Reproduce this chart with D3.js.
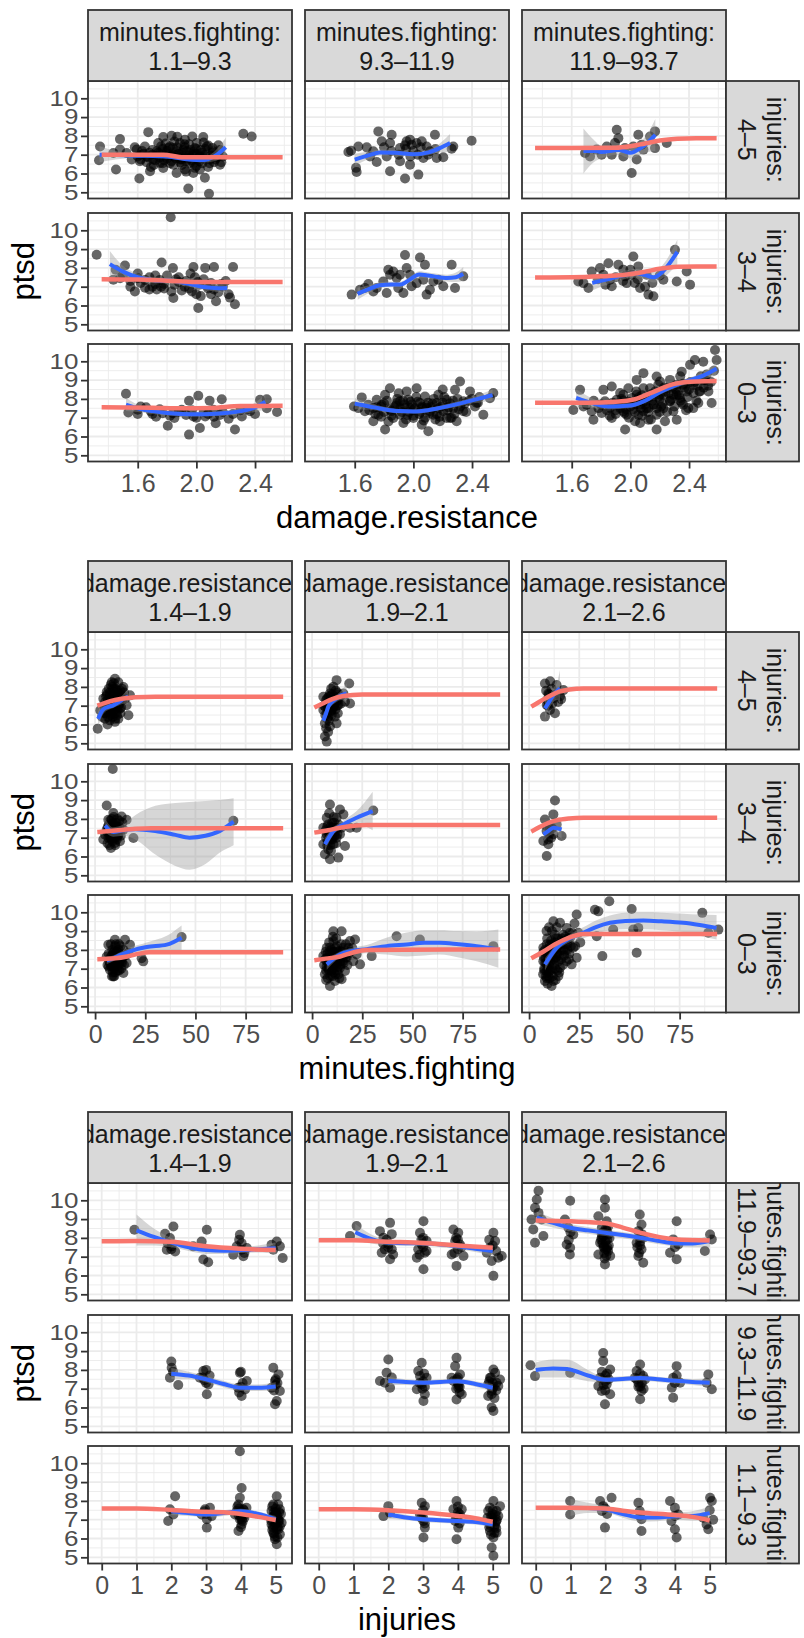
<!DOCTYPE html>
<html>
<head>
<meta charset="utf-8">
<script src="https://cdn.jsdelivr.net/npm/d3@7"></script>
<style>
  body { margin: 0; background: #fff; }
  svg { display: block; font-family: "Liberation Sans", Arial, sans-serif; }
</style>
</head>
<body>
<svg id="chart" width="804" height="1638"></svg>
<script>
// Titoli e etichette dei facet
const xTitles = ["damage.resistance", "minutes.fighting", "injuries"];
const yTitle = "ptsd";
const colStrips = [
  [["minutes.fighting:", "1.1–9.3"], ["minutes.fighting:", "9.3–11.9"], ["minutes.fighting:", "11.9–93.7"]],
  [["damage.resistance:", "1.4–1.9"], ["damage.resistance:", "1.9–2.1"], ["damage.resistance:", "2.1–2.6"]],
  [["damage.resistance:", "1.4–1.9"], ["damage.resistance:", "1.9–2.1"], ["damage.resistance:", "2.1–2.6"]]
];
const rowStrips = [
  [["injuries:", "4–5"], ["injuries:", "3–4"], ["injuries:", "0–3"]],
  [["injuries:", "4–5"], ["injuries:", "3–4"], ["injuries:", "0–3"]],
  [["minutes.fighting:", "11.9–93.7"], ["minutes.fighting:", "9.3–11.9"], ["minutes.fighting:", "1.1–9.3"]]
];

// Tick
const xTicks = [[1.6, 2.0, 2.4], [0, 25, 50, 75], [0, 1, 2, 3, 4, 5]];
const xMinor = [[1.4, 1.8, 2.2, 2.6], [12.5, 37.5, 62.5, 87.5], [0.5, 1.5, 2.5, 3.5, 4.5]];
const xFormats = [".1f", "d", "d"];
const xDomains = [[1.261, 2.652], [-3.53, 98.1], [-0.394, 5.468]];
const yTicks = [5, 6, 7, 8, 9, 10];
const yMinor = [5.5, 6.5, 7.5, 8.5, 9.5, 10.5];
const yDomain = [4.67, 10.92];

// Grafico 1: ptsd ~ damage.resistance (righe injuries, colonne minutes.fighting)
const points1 = [
  [[1.343,7.44],[1.336,6.70],[1.452,6.21],[1.479,7.83],[1.611,5.73],[1.672,8.20],[1.945,5.20],[2.086,4.92],[2.32,8.11],[2.377,7.97],[1.774,7.94],[1.831,8.01],[1.972,7.97],[2.047,7.94],[2.081,7.49],[2.138,6.91],[2.161,6.47],[2.058,5.77],[2.024,6.21],[1.979,6.03],[1.922,6.21],[1.865,6.03],[1.843,6.47],[1.774,6.29],[1.684,6.12],[1.661,6.91],[1.593,7.27],[1.524,7.09],[1.559,6.74],[1.615,6.65],[1.706,6.74],[1.729,7.18],[1.797,7.09],[1.843,6.91],[1.888,7.62],[1.922,7.80],[1.933,7.18],[1.99,7.35],[2.024,6.91],[2.093,6.74],[1.9,6.74],[1.82,7.44],[1.74,7.62],[1.865,7.18],[1.956,6.56],[2.115,7.18],[2.002,7.62],[1.752,6.56],[1.649,7.44],[1.479,7.27],[1.434,7.09],[1.88,6.85],[1.95,6.95],[2.0,7.05],[1.8,6.8],[1.7,7.0],[1.92,7.4],[2.06,7.3],[1.77,7.3],[2.12,6.6],[2.0,6.4],[1.85,7.7],[1.62,7.0],[1.58,7.4],[2.15,7.5],[1.97,6.7],
   [1.60,6.9],[1.63,7.2],[1.66,6.6],[1.68,7.1],[1.71,6.45],[1.73,6.95],[1.76,7.45],[1.78,6.7],[1.8,7.2],[1.82,6.55],[1.84,7.35],[1.86,6.8],[1.88,7.05],[1.9,6.45],[1.91,7.25],[1.93,6.65],[1.95,7.55],[1.96,6.85],[1.98,7.15],[1.99,6.3],[2.01,6.75],[2.03,7.25],[2.04,6.55],[2.06,7.0],[2.08,6.35],[2.1,6.95],[2.11,7.35],[2.13,6.75],[2.15,7.0],[2.17,6.6],[1.87,7.95],[1.93,6.1],[1.79,7.6],[2.05,7.65],[1.69,6.35],[1.75,6.85],[1.83,6.95],[1.97,7.05],[2.02,6.9],[1.89,6.6],
   [1.62,6.75],[1.64,7.05],[1.67,6.85],[1.7,7.25],[1.72,6.7],[1.74,7.1],[1.77,6.55],[1.79,6.95],[1.81,7.35],[1.83,6.65],[1.85,7.0],[1.87,7.4],[1.89,6.75],[1.91,6.9],[1.92,7.55],[1.94,6.8],[1.96,7.25],[1.98,6.55],[2.0,7.3],[2.02,6.65],[2.04,7.1],[2.05,6.8],[2.07,7.45],[2.09,6.55],[2.11,7.1],[2.14,6.85],[2.16,7.25],[2.18,6.9],[1.76,7.15],[1.9,7.1]],
  [[1.575,7.21],[1.557,7.14],[1.625,7.44],[1.682,7.39],[1.609,6.30],[1.613,6.08],[1.761,8.24],[1.852,8.06],[1.784,7.71],[1.841,7.62],[1.909,7.35],[1.943,7.50],[1.954,7.71],[1.977,7.80],[1.988,7.53],[2.022,7.62],[2.057,7.71],[2.09,7.44],[2.068,6.82],[2.113,7.18],[2.147,8.06],[2.159,6.82],[2.204,6.86],[2.261,7.32],[2.272,7.44],[2.397,7.74],[1.841,6.12],[1.943,5.73],[2.034,5.94],[1.75,6.61],[1.818,6.91],[1.909,6.65],[1.977,6.47],[1.727,7.18],[1.704,6.91],
   [1.95,7.3],[2.0,7.2],[1.9,7.0],[2.05,7.4],[1.85,7.2],[2.1,7.0],[2.15,7.3],[1.8,7.4],[1.98,6.9],[2.03,7.0]],
  [[1.691,7.09],[1.725,6.91],[1.804,7.00],[1.873,7.00],[1.895,7.62],[1.918,7.88],[1.907,8.33],[1.952,6.91],[2.043,6.74],[2.02,7.44],[2.089,7.27],[2.134,7.97],[2.168,8.24],[2.168,7.35],[2.248,7.62],[2.009,6.03],[1.839,7.44],[1.77,7.27],[1.963,7.35],[2.054,8.06],[2.077,7.53]],
  [[1.32,8.70],[1.825,10.69],[1.513,8.13],[1.763,8.29],[1.84,7.99],[1.98,8.05],[2.06,8.0],[2.12,8.05],[2.25,8.05],[2.013,5.87],[1.843,6.40],[2.263,6.07],[2.134,6.23],[1.581,6.75],[1.434,7.37],[2.229,6.42],[1.73,6.85],[1.45,7.9],[1.5,7.6],[1.55,7.3],[1.6,7.7],[1.62,7.2],[1.68,7.5],[1.7,7.0],[1.75,7.35],[1.78,6.9],[1.8,7.6],[1.85,7.1],[1.88,7.5],[1.9,6.8],[1.93,7.3],[1.96,7.7],[2.0,6.6],[2.02,7.1],[2.05,7.4],[2.08,6.9],[2.1,7.2],[2.15,6.7],[2.18,7.0],[2.2,7.3],[2.22,6.6],[1.65,6.95],[1.72,7.15],[1.95,6.9],[2.03,6.5],[1.48,7.45],
   [1.55,7.0],[1.65,7.35],[1.72,7.6],[1.78,7.15],[1.83,6.75],[1.88,7.25],[1.92,7.0],[1.97,6.75],[2.01,7.25],[2.07,7.05],[2.12,6.85],[2.17,7.15],[1.6,7.45],[1.68,6.85],[1.76,7.0],[1.86,7.4],[1.99,7.5],[2.1,6.6]],
  [[1.579,6.58],[1.636,6.84],[1.693,7.14],[1.75,6.93],[1.795,7.28],[1.829,7.90],[1.818,6.66],[1.841,7.64],[1.886,7.46],[1.897,6.93],[1.943,8.69],[1.954,7.99],[1.977,7.64],[1.988,7.02],[2.045,8.55],[2.079,8.17],[2.068,7.37],[2.09,6.58],[2.113,6.84],[2.136,7.28],[2.17,7.37],[2.204,7.02],[2.261,8.17],[2.284,6.93],[2.34,7.55],[2.022,7.19],[1.932,6.66],[1.727,6.75],[1.67,6.93],[1.863,7.81],[1.909,7.64]],
  [[1.645,7.28],[1.68,7.19],[1.736,7.81],[1.793,7.99],[1.816,7.64],[1.861,7.37],[1.873,7.02],[1.918,8.17],[1.952,7.90],[1.975,7.19],[2.02,8.61],[2.054,8.08],[2.066,6.93],[2.123,6.58],[2.157,6.49],[2.111,7.64],[2.225,7.37],[2.304,8.96],[2.316,7.28],[2.384,7.81],[2.407,7.11],[2.009,7.64],[1.85,8.25],[1.964,7.55],[1.714,6.93],
   [1.9,7.5],[1.95,7.3],[2.0,7.9],[2.05,7.4],[2.1,7.0],[1.83,7.1],[2.15,7.2],[2.2,7.6],[1.78,7.4],[2.03,7.2]],
  [[1.52,8.27],[1.536,7.28],[1.6,7.2],[1.657,7.55],[1.725,7.05],[1.805,6.57],[1.85,6.98],[1.95,6.1],[2.024,6.45],[1.95,7.9],[2.013,8.17],[2.09,7.9],[2.173,7.98],[2.132,6.7],[2.22,6.95],[2.263,6.37],[2.31,7.07],[2.366,7.34],[2.434,7.95],[2.48,7.5],[2.55,7.3],[2.48,7.98],[1.97,7.4],[2.05,7.3],[2.115,7.42],[2.16,7.15],[1.98,7.06],[1.9,7.42],[1.84,7.24],[1.77,7.24],[1.69,7.33],[1.6,7.42],[2.35,7.45],[2.06,7.06],
   [1.7,7.2],[1.75,7.45],[1.82,7.1],[1.88,7.3],[1.93,7.15],[2.0,7.0],[2.08,7.2],[2.12,7.05],[2.18,7.3],[2.25,7.2],[2.3,7.4],[2.4,7.2],[1.62,7.6]],
  [[1.595,7.60],[1.648,8.08],[1.67,7.34],[1.807,8.22],[1.84,8.57],[1.807,6.37],[1.954,8.40],[2.022,8.57],[2.057,6.63],[2.102,6.28],[2.284,8.48],[2.318,8.93],[2.477,7.16],[2.545,8.31],[1.727,7.51],[1.784,7.69],[1.886,7.78],[1.909,7.16],[1.977,7.51],[2.045,7.78],[2.113,7.34],[2.159,7.78],[2.17,8.22],[2.227,7.95],[2.272,7.51],[2.34,7.87],[2.386,8.40],[2.431,7.78],[2.522,8.04],[1.727,6.81],[1.863,6.98],[2.0,6.98],[1.932,6.72],[2.181,6.81],[2.25,6.98],[2.295,6.81],[1.75,7.95],[1.841,7.43],[1.909,7.87],[2.09,7.51],[2.136,7.16],[2.204,7.34],[2.227,6.98],[2.34,7.34],[1.693,7.69],[1.625,7.51],[1.761,7.16],[2.057,7.51],[1.966,7.95],[2.079,8.13],[1.943,7.51],
   [1.70,7.4],[1.74,7.2],[1.78,7.6],[1.8,7.3],[1.82,7.9],[1.85,7.1],[1.87,7.55],[1.89,8.0],[1.92,7.3],[1.94,7.7],[1.96,7.15],[1.98,7.85],[2.0,7.4],[2.02,8.1],[2.04,7.2],[2.06,7.6],[2.08,7.0],[2.1,7.8],[2.12,7.55],[2.14,8.0],[2.16,7.2],[2.19,7.6],[2.21,8.1],[2.23,7.4],[2.25,7.75],[2.28,7.2],[2.3,8.0],[2.32,7.6],[2.36,7.3],[2.38,7.9],[2.42,7.6],[2.45,8.1],[1.83,6.8],[1.95,6.9],[2.07,6.85],[2.15,6.9],[1.9,8.3],[2.2,8.5],[2.0,7.1],[2.26,7.0],
   [1.75,7.55],[1.8,7.75],[1.85,7.35],[1.88,7.65],[1.91,7.5],[1.93,7.9],[1.97,7.3],[1.99,7.7],[2.01,7.5],[2.03,7.85],[2.05,7.3],[2.09,7.65],[2.11,7.25],[2.13,7.75],[2.17,7.5],[2.2,7.8],[2.24,7.55],[2.27,7.9],[2.31,7.45],[2.35,7.75],[2.4,8.0],[2.44,7.8],[1.78,7.05],[2.18,7.05]],
  [[2.577,10.6],[2.588,10.07],[2.44,10.07],[2.497,9.98],[2.407,9.81],[1.657,8.48],[1.611,7.41],[1.748,6.89],[1.816,8.48],[1.873,8.66],[1.964,6.37],[2.066,6.72],[2.179,6.37],[2.316,6.89],[2.429,7.51],[2.35,9.45],[2.361,8.75],[2.316,8.22],[2.27,9.01],[2.179,9.19],[2.089,9.37],[2.043,9.01],[1.952,8.22],[1.998,7.78],[1.93,7.51],[1.907,7.95],[1.975,7.16],[2.066,7.69],[2.089,7.34],[2.111,8.04],[2.134,8.57],[2.157,7.69],[2.179,7.16],[2.202,8.22],[2.225,7.51],[2.248,8.57],[2.27,7.87],[2.293,7.34],[2.316,8.75],[2.338,8.04],[2.384,8.40],[2.429,8.75],[2.475,8.40],[2.509,9.01],[2.395,7.51],[2.463,7.78],[1.861,7.51],[1.827,7.87],[1.782,7.51],[1.736,7.34],[1.702,7.69],[1.873,6.98],[2.032,6.81],[2.123,6.89],[2.236,6.81],[2.043,8.22],[1.986,8.57],[1.93,8.31],[2.089,8.57],[2.202,8.93],[2.361,7.69],[2.532,8.40],[2.554,7.78],[1.952,7.34],[2.225,8.22],[2.293,8.22],[2.123,7.51],[2.054,7.16],[1.804,7.25],
   [1.8,7.7],[1.84,7.4],[1.88,7.8],[1.9,7.2],[1.92,7.65],[1.95,7.9],[1.97,7.45],[2.0,7.6],[2.01,8.05],[2.03,7.3],[2.05,7.95],[2.07,7.5],[2.08,8.2],[2.1,7.7],[2.12,7.3],[2.13,8.1],[2.15,7.9],[2.17,8.4],[2.18,7.5],[2.2,8.0],[2.22,7.75],[2.23,8.6],[2.25,7.3],[2.26,8.3],[2.28,8.0],[2.3,7.6],[2.31,8.5],[2.33,8.2],[2.35,7.8],[2.37,8.6],[2.39,8.1],[2.41,8.9],[2.43,8.3],[2.46,8.7],[2.48,9.2],[2.5,8.6],[2.52,9.3],[2.55,8.9],[2.57,9.5],[2.45,7.9],[2.38,7.4],[2.14,6.9],[1.99,7.0],[1.86,7.1],[1.75,7.9],[1.68,7.6],[2.04,8.4],[2.19,8.75],[2.34,9.2],[1.94,8.0],
   [1.9,7.4],[1.93,7.75],[1.96,7.25],[1.99,7.85],[2.02,7.45],[2.04,7.7],[2.06,8.1],[2.09,7.85],[2.11,7.5],[2.14,8.25],[2.16,7.7],[2.19,8.1],[2.21,7.6],[2.24,8.4],[2.27,7.9],[2.29,8.65],[2.32,8.4],[2.34,7.9],[2.36,8.8],[2.4,8.5],[2.44,8.9],[2.47,8.4],[2.5,9.0],[2.53,8.7],[2.2,7.3],[2.08,7.1]]
];
// loess: [x, y, inferiore, superiore]
const smooth1 = [
  [[1.34,7.0,6.6,7.45],[1.45,6.98,6.75,7.2],[1.6,6.95,6.82,7.08],[1.8,6.9,6.8,7.0],[1.95,6.75,6.65,6.87],[2.05,6.72,6.58,6.88],[2.12,6.9,6.65,7.15],[2.2,7.4,6.95,7.9]],
  [[1.60,6.74,6.4,7.05],[1.70,6.98,6.78,7.18],[1.77,7.12,6.95,7.28],[1.88,7.1,6.96,7.24],[2.0,7.02,6.9,7.14],[2.11,7.14,7.0,7.3],[2.18,7.35,7.12,7.6],[2.25,7.62,7.15,8.1]],
  [[1.68,7.2,6.0,8.4],[1.75,7.2,6.6,7.8],[1.8,7.15,6.8,7.5],[1.92,7.25,7.0,7.5],[2.0,7.1,6.8,7.4],[2.07,7.35,7.0,7.7],[2.12,7.65,7.15,8.15],[2.17,8.05,7.2,8.9]],
  [[1.41,8.2,7.5,8.9],[1.5,7.8,7.5,8.1],[1.6,7.5,7.3,7.7],[1.7,7.35,7.2,7.5],[1.85,7.3,7.15,7.45],[1.95,7.15,7.0,7.3],[2.05,6.98,6.82,7.14],[2.15,6.92,6.72,7.12],[2.21,6.93,6.65,7.2]],
  [[1.62,6.62,6.3,6.95],[1.7,6.88,6.68,7.08],[1.77,7.08,6.92,7.24],[1.85,7.12,6.98,7.26],[1.91,7.12,6.98,7.26],[1.98,7.4,7.25,7.55],[2.04,7.65,7.48,7.82],[2.1,7.6,7.44,7.76],[2.14,7.55,7.38,7.72],[2.23,7.46,7.28,7.64],[2.29,7.5,7.25,7.75],[2.34,7.67,7.3,8.05]],
  [[1.74,7.2,6.8,7.6],[1.85,7.4,7.15,7.65],[1.95,7.6,7.38,7.82],[2.04,7.72,7.5,7.94],[2.1,7.62,7.38,7.86],[2.16,7.5,7.22,7.78],[2.22,7.8,7.45,8.15],[2.32,8.85,8.2,9.5]],
  [[1.52,7.7,7.35,8.05],[1.6,7.5,7.3,7.7],[1.7,7.35,7.2,7.5],[1.8,7.25,7.12,7.38],[1.9,7.2,7.08,7.32],[2.0,7.18,7.06,7.3],[2.1,7.2,7.08,7.32],[2.2,7.25,7.1,7.4],[2.3,7.35,7.18,7.52],[2.4,7.55,7.3,7.8],[2.47,7.85,7.45,8.25]],
  [[1.6,7.75,7.45,8.05],[1.7,7.6,7.42,7.78],[1.8,7.45,7.32,7.58],[1.9,7.35,7.24,7.46],[2.0,7.33,7.22,7.44],[2.1,7.4,7.29,7.51],[2.2,7.55,7.43,7.67],[2.3,7.72,7.58,7.86],[2.4,7.92,7.75,8.09],[2.54,8.2,7.9,8.5]],
  [[1.63,8.05,7.6,8.5],[1.75,7.75,7.5,8.0],[1.85,7.6,7.45,7.75],[2.0,7.65,7.52,7.78],[2.1,7.9,7.78,8.02],[2.2,8.35,8.22,8.48],[2.35,8.85,8.7,9.0],[2.5,9.25,9.05,9.45],[2.588,9.6,9.25,9.95]]
];
// linea rossa (assente in alcuni pannelli)
const fit1 = [
  [[1.354,7.0],[1.6,7.0],[1.774,7.0],[1.911,6.86],[2.2,6.86],[2.588,6.86]],
  null,
  [[1.35,7.35],[1.6,7.35],[1.9,7.37],[2.0,7.45],[2.1,7.6],[2.2,7.75],[2.32,7.85],[2.45,7.88],[2.588,7.88]],
  [[1.354,7.4],[1.6,7.38],[1.8,7.32],[2.0,7.25],[2.2,7.25],[2.588,7.25]],
  null,
  [[1.35,7.49],[1.6,7.5],[1.8,7.55],[1.95,7.62],[2.1,7.8],[2.2,7.95],[2.32,8.06],[2.45,8.08],[2.588,8.08]],
  [[1.354,7.55],[1.7,7.53],[1.9,7.5],[2.1,7.52],[2.3,7.62],[2.588,7.64]],
  null,
  [[1.35,7.8],[1.7,7.8],[1.9,7.85],[2.03,7.98],[2.15,8.35],[2.3,8.8],[2.45,8.93],[2.588,8.95]]
];

// Grafico 2: ptsd ~ minutes.fighting (righe injuries, colonne damage.resistance)
const points2 = [
  [[1.3,5.78],[4.1,7.37],[2.6,6.75],[8.3,8.25],[9.9,6.14],[11.6,6.31],[6.6,6.67],[5.8,7.72],[10.8,7.72],[14.1,7.99],[15.7,7.02],[17.4,7.55],[9.1,7.19],[12.4,6.84],[7.4,6.22],[4.9,6.31],[9.9,8.43],[11.6,8.25],[14.9,7.37],[13.2,7.55],[16.6,6.49],[7.4,7.55],[9.1,7.9],[6.0,7.0],[8.0,6.9],[10.5,7.4],[12.0,7.1],[7.0,7.2],[5.0,6.9],[3.5,6.4],
   [4.5,6.6],[5.5,7.5],[6.2,6.0],[6.8,7.9],[7.2,6.8],[7.8,7.4],[8.4,7.05],[8.8,6.4],[9.3,7.6],[9.6,6.9],[10.2,7.15],[10.4,6.6],[11.0,7.8],[11.2,6.8],[11.8,7.3],[12.5,7.8],[13.0,6.9],[13.6,7.3],[14.4,7.7],[8.6,8.0],[6.4,7.3],[5.2,6.6],[7.6,6.5],[10.0,6.3],[12.8,7.4],[9.4,8.2],[11.4,7.55],
   [5.0,7.2],[6.0,7.6],[6.5,6.4],[7.0,7.0],[7.4,7.7],[8.0,7.3],[8.2,6.6],[8.8,7.4],[9.2,6.7],[9.6,7.3],[10.0,7.9],[10.6,7.0],[11.0,6.5],[11.6,7.0],[12.2,7.6],[12.6,6.6],[13.4,7.9],[7.8,8.1],[9.0,7.05],[10.8,7.3]],
  [[7.3,5.09],[6.4,5.36],[12.2,8.36],[18.5,8.18],[18.9,7.12],[12.2,6.06],[8.1,6.42],[5.6,6.77],[8.9,7.65],[10.6,8.01],[7.3,7.12],[13.9,7.48],[9.75,6.77],[11.4,6.42],[6.4,6.06],[13.1,7.04],[15.6,7.65],[16.4,7.21],[5.6,7.48],[8.9,5.89],[10,7.3],[11,7.0],[9,6.9],[7.5,6.6],[12.5,7.7],[6.0,7.0],
   [6.8,6.9],[7.6,7.4],[8.3,6.2],[8.6,7.1],[9.2,7.5],[9.8,6.5],[10.3,7.0],[10.8,7.5],[11.6,6.8],[12.0,7.2],[12.8,6.6],[13.4,7.6],[14.2,7.1],[7.0,5.8],[9.5,7.9],[11.8,7.8],[8.0,6.8],[6.6,6.5],
   [7.0,7.3],[7.8,6.9],[8.4,7.5],[9.0,7.2],[9.4,6.7],[10.0,7.6],[10.6,6.9],[11.2,7.3],[12.4,7.0],[13.0,7.3],[8.0,5.6],[7.6,6.3]],
  [[7.9,8.18],[9.6,7.65],[13.7,8.1],[17.1,7.83],[12.1,7.39],[8.8,7.04],[10.4,6.77],[7.9,6.42],[12.9,6.6],[15.4,7.5],[11.2,7.9],[9.0,7.3],[14.5,7.2],[10.5,8.3],[16.0,7.35],[9.5,7.0],[11.5,7.1],[10.0,7.6],[13.0,7.6],[8.5,7.8]],
  [[8.8,10.65],[5.8,8.71],[7.9,6.45],[9.9,6.72],[4.1,6.9],[5.8,7.43],[10.8,7.60],[15.7,7.95],[19.1,6.98],[11.6,7.16],[13.2,8.13],[6.6,7.95],[9.1,8.31],[7.4,7.07],[5.0,7.16],[12.4,6.81],[14.1,7.43],[9.1,7.78],[8.2,7.43],[68.9,7.9],[10.5,7.0],[12.0,7.6],[7.0,7.7],[6.2,6.7],[11.0,8.0],
   [6.0,7.3],[6.8,7.5],[7.5,7.9],[8.0,7.2],[8.6,6.8],[9.4,7.5],[10.2,7.8],[10.8,6.9],[11.4,7.4],[12.8,7.1],[13.6,7.8],[6.6,7.0],[8.4,8.0],[9.6,7.1],[7.2,6.6],
   [7.0,7.3],[7.8,7.0],[8.5,7.6],[9.0,7.0],[9.8,7.3],[10.5,7.6],[11.2,7.1],[12.0,7.9],[8.2,6.9],[9.3,8.1],[6.4,7.6],[10.0,6.6]],
  [[8.9,8.77],[13.9,8.5],[30.5,8.45],[22.2,7.53],[7.3,8.06],[12.2,8.06],[15.6,8.24],[5.6,7.53],[10.6,7.53],[14.7,7.53],[8.9,7.0],[12.2,7.0],[5.6,6.65],[8.1,6.38],[10.6,6.65],[16.4,6.56],[8.9,5.85],[6.4,6.12],[13.1,5.94],[18.9,7.53],[13.9,7.18],[7.3,7.18],[10,7.8],[11.5,7.3],[9.5,6.9],
   [7.5,7.6],[8.2,7.3],[9.2,7.6],[9.8,7.2],[10.2,6.9],[11.0,7.8],[11.8,7.5],[12.6,7.2],[13.2,7.7],[7.8,6.8],[9.0,6.6],[8.5,8.3],[10.8,8.1],[6.8,7.4],[12.0,6.7],
   [7.0,7.0],[8.0,7.7],[8.6,7.1],[9.6,7.4],[10.4,7.6],[11.2,7.1],[12.4,7.5],[9.4,6.3],[7.6,6.6],[10.0,7.0]],
  [[12.9,8.98],[12.1,8.24],[7.9,7.97],[8.7,7.35],[13.7,7.7],[16.2,7.09],[7.1,6.82],[9.6,6.65],[8.8,6.03],[12.1,7.18],[10.4,7.53],[11,7.0],[9.0,7.6],[10.0,7.2],[11.5,7.5],[9.5,6.9]],
  [[6.6,8.27],[9.9,8.54],[14.9,8.54],[17.4,8.27],[24.0,7.39],[23.2,7.56],[9.1,6.59],[14.1,6.77],[7.4,6.95],[10.8,7.12],[12.4,7.65],[5.8,7.65],[9.1,7.83],[11.6,8.01],[13.2,7.39],[9.9,7.39],[7.4,7.3],[15.7,7.3],[16.6,7.83],[14.1,8.01],[43.1,8.68],[8.0,7.5],[11.0,7.5],[12.0,6.9],[10,8.2],
   [6.2,7.2],[6.8,7.8],[7.6,7.6],[8.2,7.1],[8.6,8.0],[9.4,7.6],[9.7,7.0],[10.3,7.8],[10.6,7.3],[11.3,7.7],[11.8,7.2],[12.6,8.2],[13.0,7.0],[13.6,7.6],[14.4,7.2],[8.8,6.8],[10.0,6.8],[7.9,8.3],[11.9,8.3],[9.0,7.3],[12.2,7.4],[15.2,7.7],
   [7.0,7.4],[7.8,7.2],[8.4,7.7],[9.0,7.1],[9.5,7.9],[10.2,7.3],[10.8,7.9],[11.4,7.3],[12.0,7.8],[12.8,7.5],[13.4,7.3],[8.4,6.6],[9.6,6.6],[11.2,6.9],[6.8,7.1],[10.4,8.3]],
  [[42.1,8.73],[53.7,8.55],[29.7,7.67],[23.9,7.23],[90.3,8.2],[14.7,6.44],[8.9,6.08],[10.6,8.99],[14.7,8.99],[5.6,7.67],[7.3,7.4],[8.9,8.11],[10.6,8.47],[12.2,7.67],[13.9,7.05],[15.6,8.11],[17.2,7.58],[18.9,8.47],[20.5,7.4],[22.2,7.76],[6.4,6.7],[9.8,6.88],[13.1,6.7],[11.4,6.35],[16.4,6.88],[8.1,7.23],[13.9,7.94],[18.1,8.11],[21.4,8.55],[7.3,8.11],[9.8,7.67],[11,7.2],[12.5,7.4],[10,7.0],[14,7.4],[7,6.9],
   [6.0,7.2],[6.8,7.9],[7.6,7.6],[8.2,7.0],[8.5,8.4],[9.2,7.3],[9.6,8.0],[10.2,7.5],[10.8,6.8],[11.2,7.9],[11.8,7.4],[12.4,8.2],[12.8,7.1],[13.4,7.7],[14.2,7.2],[14.8,7.9],[15.4,7.4],[16.0,7.7],[16.8,8.3],[17.6,7.2],[19.0,7.9],[20.0,8.1],[9.0,6.6],[11.6,6.7],[13.6,6.5],[7.8,6.5],[10.4,8.7],[12.0,8.6],
   [6.4,7.5],[7.2,7.1],[7.8,7.8],[8.6,7.6],[9.0,7.9],[9.8,7.2],[10.4,7.9],[11.0,7.5],[11.6,8.1],[12.2,7.2],[13.0,7.9],[13.8,7.5],[14.6,8.3],[15.8,7.3],[16.6,7.6],[18.0,7.8],[8.4,6.9],[10.2,6.6],[12.6,6.9],[7.0,6.4]],
  [[39.96,10.59],[32.8,10.14],[34.5,10.05],[23.7,9.88],[51.1,10.18],[86.3,9.97],[94.3,9.08],[41.9,9.08],[54.4,9.17],[53.6,7.85],[36.5,7.67],[33.7,8.73],[89.3,8.91],[51.9,9.08],[8.7,9.0],[12.1,9.52],[15.4,9.44],[18.7,9.17],[20.4,8.64],[22.0,8.11],[23.7,7.58],[10.4,8.29],[13.7,8.11],[17.1,8.47],[7.1,7.4],[8.7,6.88],[12.1,6.35],[15.4,7.05],[18.7,7.4],[21.2,7.23],[22.9,8.2],[9.6,7.67],[12.9,7.49],[7.9,6.35],[11.2,6.08],[14.6,6.61],[17.9,7.94],[24.5,8.91],[7.1,8.11],[9,7.8],[10,7.2],[11,7.6],[12,8.0],[13,7.0],[14,7.8],[16,7.5],[17,8.8],[19,8.0],[9.5,6.6],[11.5,7.0],[13.5,8.6],[8,7.3],[10.5,6.9],[15,8.3],[20,7.8],
   [7.5,7.0],[8.2,7.6],[8.8,8.3],[9.2,7.0],[9.8,8.0],[10.6,7.4],[11.0,8.5],[11.6,7.8],[12.4,7.2],[12.8,8.8],[13.4,7.6],[14.2,8.2],[14.8,7.4],[15.8,8.0],[16.4,8.6],[17.4,7.7],[18.2,8.3],[19.4,8.6],[20.8,8.2],[21.6,8.9],[8.4,6.6],[9.2,6.2],[10.2,6.5],[13.2,6.4],[14.0,6.9],[16.8,7.2],[7.0,6.7],[11.4,9.0],[13.8,9.2],[22.6,9.4],[25.5,8.4],[19.8,7.5],
   [7.4,7.6],[8.0,8.0],[8.6,7.3],[9.0,8.6],[9.6,7.4],[10.2,8.1],[10.8,7.7],[11.4,8.3],[12.0,7.5],[12.6,8.0],[13.2,8.4],[13.8,7.9],[14.4,8.6],[15.2,7.7],[16.0,8.3],[17.0,8.0],[18.0,8.7],[19.0,8.3],[20.2,8.9],[7.6,6.9],[8.8,6.5],[9.8,6.8],[11.8,6.6],[15.0,6.8],[7.2,7.9],[10.0,9.2]]
];
const smooth2 = [
  [[1.5,6.3,5.9,6.7],[4,6.8,6.55,7.05],[7,6.95,6.8,7.1],[9,7.02,6.88,7.16],[12,7.2,7.02,7.38],[14,7.35,7.1,7.6],[16.5,7.48,7.1,7.86]],
  [[5.6,6.2,5.8,6.6],[7,6.6,6.35,6.85],[8.1,6.95,6.75,7.15],[10,7.2,7.02,7.38],[12.2,7.39,7.2,7.58],[14.5,7.55,7.3,7.8],[17.2,7.65,7.1,8.2]],
  [[7.9,6.86,6.3,7.4],[10,7.2,6.85,7.55],[12.1,7.57,7.2,7.94],[14,7.78,7.3,8.26],[15.4,7.92,7.1,8.9]],
  [[5,7.65,7.3,8.0],[9,7.3,7.05,7.55],[14,7.4,7.1,7.7],[20,7.45,6.9,8.2],[30,7.35,6.1,8.7],[40,7.15,5.5,8.85],[47,7.0,5.3,8.9],[55,7.1,5.6,8.95],[62,7.35,6.2,9.0],[69,7.85,6.6,9.1]],
  [[6.4,6.65,6.3,7.0],[10.6,7.35,7.15,7.55],[15.6,7.71,7.5,7.92],[22.2,8.06,7.7,8.42],[30.2,8.41,7.4,9.45]],
  [[7.1,7.18,6.8,7.56],[9.5,7.35,7.05,7.65],[12.1,7.53,7.2,7.86],[16.2,7.44,6.95,7.93]],
  [[5.8,7.45,7.25,7.65],[9,7.55,7.4,7.7],[12.4,7.72,7.57,7.87],[18,7.95,7.75,8.15],[25.7,8.15,7.9,8.4],[35.7,8.28,7.85,8.75],[43.1,8.65,8.0,9.3]],
  [[7.3,7.23,6.95,7.5],[13.9,7.76,7.6,7.92],[20,7.95,7.78,8.12],[27.2,8.04,7.82,8.26],[37,8.2,7.75,8.65],[47.1,8.29,7.65,8.93],[56,8.38,7.7,9.05],[63.7,8.38,7.75,9.05],[73,8.3,7.6,9.0],[82,8.2,7.4,8.98],[92.8,8.02,7.05,9.08]],
  [[7.9,7.23,6.9,7.55],[13.7,8.11,7.92,8.3],[20,8.6,8.4,8.8],[27,8.91,8.62,9.2],[33,9.2,8.85,9.55],[40.3,9.44,9.05,9.83],[48,9.54,9.1,9.98],[56.9,9.56,9.1,10.0],[66,9.52,9.05,9.98],[76.8,9.44,8.95,9.92],[85,9.32,8.75,9.88],[93.4,9.17,8.55,9.85]]
];
const fit2 = [
  [[1.1,7.0],[5,7.15],[10,7.3],[15,7.4],[20,7.45],[30,7.48],[50,7.48],[93.7,7.48]],
  [[1.1,6.9],[5,7.1],[10,7.35],[15,7.5],[25,7.6],[40,7.6],[93.7,7.6]],
  [[1.1,6.95],[5,7.2],[10,7.5],[15,7.75],[20,7.86],[27,7.92],[40,7.92],[93.7,7.92]],
  [[1.1,7.3],[10,7.38],[20,7.47],[28,7.5],[93.7,7.5]],
  [[1.1,7.27],[8,7.4],[13.9,7.53],[20,7.62],[27.2,7.67],[93.7,7.67]],
  [[1.1,7.32],[5,7.55],[10,7.8],[13.7,7.92],[20,8.02],[27,8.06],[93.7,8.06]],
  [[1.1,7.5],[10,7.55],[16,7.65],[22,7.8],[27,7.87],[93.7,7.87]],
  [[1.1,7.45],[8,7.55],[14,7.65],[20,7.85],[27,8.0],[93.7,8.02]],
  [[1.1,7.55],[7,7.9],[13,8.3],[20,8.65],[27,8.85],[93.7,8.85]]
];

// Grafico 3: ptsd ~ injuries (righe minutes.fighting, colonne damage.resistance)
const points3 = [
  [[0.94,8.43],[2.06,8.61],[1.82,8.22],[1.87,7.37],[2.01,7.55],[2.11,7.28],[1.96,7.99],[3.02,8.43],[2.87,7.81],[2.92,6.85],[3.06,6.7],[2.63,7.55],[3.97,8.17],[4.02,7.72],[4.07,7.02],[3.88,7.55],[4.17,7.46],[3.78,7.11],[4.02,7.37],[5.03,7.81],[5.12,7.55],[5.2,6.93],[4.93,7.37],[4.88,7.64],[3.95,7.9],[4.1,7.2],[2.0,7.4],[1.9,7.7]],
  [[1.09,8.63],[0.9,8.1],[1.76,8.36],[2.05,8.8],[1.86,8.01],[2.0,7.65],[1.81,7.21],[2.05,6.86],[2.14,7.12],[1.9,7.39],[2.91,8.27],[3.01,8.89],[2.96,7.65],[2.86,7.39],[3.05,7.21],[3.01,6.33],[2.82,6.95],[3.1,7.83],[3.87,8.45],[4.01,8.27],[3.92,7.83],[4.06,7.65],[3.82,7.12],[3.96,6.51],[4.16,7.04],[5.02,8.27],[5.07,7.83],[4.92,7.48],[5.16,6.95],[5.02,5.98],[4.97,6.77],[5.26,7.04],[4.83,7.21],[2.0,7.5],[3.0,7.5],[4.0,7.4],[2.1,8.2],[3.0,8.0],[4.0,7.9],
   [1.95,7.9],[2.1,7.4],[1.85,7.7],[2.95,7.9],[3.1,7.3],[2.9,7.1],[3.95,8.0],[4.1,7.5],[3.9,7.2],[5.0,7.6],[4.9,7.9],[5.1,7.3]],
  [[0.08,10.51],[0.03,10.04],[-0.02,9.6],[0.08,9.33],[-0.12,8.98],[0.17,8.98],[-0.07,8.45],[0.22,8.1],[-0.02,7.74],[0.99,9.98],[0.84,8.98],[0.94,8.54],[1.08,8.18],[0.89,7.65],[0.98,7.12],[0.99,7.48],[1.99,10.04],[1.99,9.6],[1.8,9.15],[2.04,8.89],[1.9,8.54],[2.09,8.18],[1.85,7.74],[2.04,7.39],[1.8,7.12],[1.99,6.59],[2.14,7.04],[1.9,8.01],[2.04,8.36],[2.0,7.8],[1.95,7.5],[2.1,7.6],[1.9,8.2],[2.99,9.24],[3.04,8.71],[2.95,8.36],[3.09,8.01],[2.9,7.74],[3.04,7.39],[2.95,7.04],[3.09,6.68],[3.0,8.0],[3.0,7.6],[4.05,8.89],[3.95,7.92],[4.1,7.65],[3.86,7.21],[4.05,6.86],[4.0,7.5],[4.86,7.3],[5.01,8.18],[5.06,7.92],
   [1.95,8.1],[2.05,7.9],[1.92,7.7],[2.08,7.3],[1.97,7.2],[2.02,8.5],[1.88,7.9],[2.12,8.0],[1.98,6.9],[2.06,7.5],[3.0,7.8],[2.97,7.2],[3.05,8.2],[2.92,7.5],[1.0,8.3],[0.95,7.9],
   [1.96,7.55],[2.03,7.05],[1.93,8.3],[2.08,8.6],[2.0,7.4]],
  [[2.01,8.11],[1.96,7.58],[2.2,7.2],[3.02,6.7],[2.82,7.58],[3.07,7.23],[2.92,7.94],[3.97,7.85],[3.92,7.05],[4.02,6.61],[4.17,7.41],[4.12,6.96],[4.93,8.11],[4.98,7.41],[5.03,6.35],[4.98,6.17],[5.12,6.88],[4.88,7.05],[5.08,7.76],[2.0,8.45],[2.05,7.9],[3.0,8.0],[2.95,7.45],[4.0,7.9],[5.0,7.2],[3.1,7.7],[4.05,7.3],
   [3.0,7.3],[2.9,7.6],[4.0,7.1],[3.95,6.8],[5.0,7.5],[4.95,6.9],[5.05,7.3]],
  [[2.0,8.55],[1.76,7.41],[1.95,7.85],[2.05,7.05],[1.9,7.32],[2.96,8.38],[2.86,7.94],[3.1,7.58],[2.96,7.23],[2.82,6.97],[3.05,6.7],[3.01,6.35],[2.91,7.67],[3.96,8.64],[3.92,8.2],[4.06,7.76],[3.87,7.41],[4.01,7.05],[4.11,6.7],[3.96,6.43],[3.82,7.58],[5.02,8.02],[4.92,7.58],[5.11,7.32],[4.97,6.88],[5.16,7.14],[4.97,6.0],[5.02,5.82],[4.87,7.23],[5.21,7.49],[5.07,7.85],[4.87,6.61],[3.0,7.4],[4.0,7.3],[5.0,7.0],[2.1,7.6],[3.05,7.1],[4.05,7.1],
   [2.98,7.0],[3.03,7.8],[2.9,7.3],[4.0,7.6],[3.95,7.0],[4.05,6.8],[4.9,7.4],[5.05,6.5],[5.1,6.9],[4.95,7.6],[5.0,7.3],
   [4.02,7.2],[3.97,7.5],[5.03,7.1],[4.97,6.7]],
  [[-0.15,8.25],[-0.02,7.67],[0.99,7.85],[1.94,8.9],[1.94,8.47],[2.14,8.02],[1.85,7.58],[2.04,7.23],[1.9,6.88],[1.99,6.17],[2.14,6.7],[1.8,7.14],[3.0,8.29],[2.9,7.94],[3.09,7.67],[2.95,7.32],[3.04,6.88],[3.0,6.44],[3.14,7.49],[2.85,7.58],[4.05,8.2],[3.95,7.58],[4.15,7.32],[3.91,7.05],[3.95,6.52],[4.96,7.76],[5.06,6.97],[4.91,7.32],[2.0,7.4],[3.0,7.1],[2.05,7.8],
   [2.0,7.7],[1.95,7.2],[2.1,7.5],[1.9,7.9],[2.0,6.9],[3.0,7.8],[2.95,7.1],[3.05,7.3],[3.1,7.0],[2.9,7.5],[4.0,7.3],[4.05,7.7]],
  [[2.11,8.25],[1.91,6.93],[2.06,7.28],[1.96,7.55],[2.97,7.55],[3.11,7.64],[2.87,7.28],[3.02,7.02],[3.02,6.58],[3.16,7.19],[3.97,10.64],[4.02,8.69],[3.97,8.17],[3.93,7.81],[4.07,7.55],[3.83,7.28],[3.97,7.02],[4.12,7.28],[3.93,6.4],[4.02,6.75],[3.88,7.46],[4.16,7.64],[5.03,8.25],[4.93,7.81],[5.12,7.55],[4.98,7.28],[5.07,7.02],[4.88,6.75],[5.03,6.49],[5.12,6.22],[4.98,5.96],[5.03,5.69],[4.88,7.46],[5.17,6.84],[4.93,6.31],[5.07,7.81],[5.0,7.1],[5.05,6.6],[4.95,7.2],[4.0,7.2],[4.05,7.4],
   [3.95,7.6],[4.0,7.1],[4.05,6.9],[3.9,7.7],[4.1,7.1],[4.0,6.6],[3.98,7.4],[5.0,7.6],[4.95,7.4],[5.05,7.2],[5.1,6.95],[4.9,7.0],[5.0,6.8],[5.08,6.5],[4.92,6.6],[5.15,7.3],[4.97,6.1],[5.02,7.3],[4.9,7.7],[3.0,7.3],[2.95,7.45],
   [5.0,7.4],[4.93,7.15],[5.07,6.9],[4.97,6.7],[5.12,6.65],[4.9,6.45],[5.05,6.05],[5.1,7.4],[4.87,6.95],[4.95,6.25],[4.03,7.0],[3.93,7.25],[4.08,7.5]],
  [[2.0,7.72],[1.86,7.19],[2.05,7.37],[2.96,7.9],[3.05,7.72],[2.91,7.28],[3.01,6.93],[3.05,6.58],[3.01,6.05],[3.96,7.99],[3.87,7.55],[4.06,7.28],[3.92,6.93],[4.01,6.58],[3.96,5.96],[4.11,7.55],[5.02,7.99],[4.92,7.63],[5.11,7.46],[4.97,7.11],[5.07,6.75],[4.92,6.4],[5.02,6.05],[4.97,5.52],[5.02,5.08],[5.16,7.19],[4.87,7.46],[5.11,6.31],[5.21,7.72],[4.92,6.84],[5.0,7.3],[5.05,6.6],[4.0,7.2],[3.0,7.1],
   [5.0,7.5],[4.95,7.2],[5.1,6.9],[4.9,6.6],[5.05,6.3],[4.98,6.9],[5.12,7.0],[4.85,7.1],[4.0,7.4],[3.95,7.1],[4.05,6.8],[4.0,7.7],[3.0,7.5],[2.95,7.1],[3.05,6.8],
   [5.0,7.0],[4.93,6.7],[5.08,7.25],[4.95,6.2],[5.1,6.55]],
  [[0.99,7.99],[0.99,7.28],[1.85,7.99],[1.9,7.46],[2.18,8.17],[1.99,6.58],[1.94,7.72],[2.95,7.9],[2.99,7.46],[3.04,7.02],[3.04,6.4],[3.86,7.99],[4.0,7.63],[4.1,7.28],[3.9,6.93],[4.0,6.49],[4.05,6.05],[5.01,8.17],[5.06,7.99],[5.1,7.0],[4.91,6.75],[4.96,6.49],[4.81,7.11],
   [2.0,7.6],[2.05,7.3],[3.0,7.2],[4.0,7.2],[5.0,7.5]]
];
const smooth3 = [
  [[1.0,8.4,7.6,9.25],[1.5,8.05,7.6,8.5],[2,7.75,7.5,8.0],[2.5,7.5,7.3,7.72],[3,7.35,7.15,7.58],[3.5,7.32,7.15,7.5],[4,7.35,7.2,7.52],[4.5,7.4,7.22,7.6],[5,7.45,7.15,7.75]],
  [[1.05,8.3,7.85,8.75],[1.5,7.95,7.7,8.2],[2,7.75,7.6,7.9],[2.5,7.72,7.58,7.86],[3,7.72,7.58,7.86],[3.5,7.65,7.5,7.8],[4,7.55,7.4,7.7],[4.5,7.42,7.25,7.6],[5,7.3,7.05,7.55]],
  [[0.03,9.07,8.75,9.4],[0.5,8.8,8.55,9.05],[1,8.54,8.34,8.74],[1.5,8.4,8.22,8.58],[2,8.27,8.1,8.44],[2.5,8.15,7.98,8.32],[3,8.01,7.84,8.18],[3.5,7.85,7.68,8.02],[4,7.72,7.55,7.89],[4.5,7.7,7.5,7.9],[5,7.83,7.5,8.16]],
  [[2,7.8,7.5,8.1],[2.5,7.7,7.5,7.9],[3,7.5,7.33,7.67],[3.5,7.25,7.08,7.42],[4,7.05,6.88,7.22],[4.5,7.05,6.88,7.22],[5,7.12,6.9,7.34]],
  [[2,7.42,7.2,7.64],[2.5,7.35,7.2,7.5],[3,7.32,7.18,7.46],[3.5,7.36,7.22,7.5],[4,7.4,7.26,7.54],[4.5,7.25,7.1,7.4],[5,7.05,6.85,7.25]],
  [[0,8.0,7.6,8.4],[0.5,8.08,7.6,8.55],[0.9,8.05,7.6,8.55],[1.5,7.7,7.4,8.0],[2,7.48,7.34,7.62],[2.5,7.52,7.38,7.66],[3,7.57,7.42,7.72],[3.5,7.5,7.36,7.64],[4,7.42,7.27,7.57],[4.5,7.36,7.2,7.52],[5,7.32,7.1,7.55]],
  [[2,7.45,7.25,7.65],[2.5,7.35,7.2,7.5],[3,7.28,7.13,7.43],[3.5,7.35,7.2,7.5],[4,7.45,7.32,7.58],[4.5,7.3,7.16,7.44],[5,7.02,6.85,7.19]],
  [[2,7.28,7.05,7.5],[2.5,7.12,6.98,7.26],[3,7.02,6.88,7.16],[3.5,6.97,6.83,7.11],[4,6.93,6.8,7.06],[4.5,6.88,6.74,7.02],[5,6.75,6.58,6.92]],
  [[1,7.63,7.2,8.1],[1.5,7.62,7.35,7.9],[2,7.55,7.35,7.75],[2.5,7.3,7.1,7.5],[3,7.12,6.9,7.35],[3.5,7.12,6.92,7.32],[4,7.18,6.98,7.38],[4.5,7.2,6.95,7.45],[5,7.35,7.0,7.7]]
];
const fit3 = [
  [[0,7.82],[1,7.83],[2,7.8],[3,7.55],[4,7.42],[5,7.35]],
  [[0,7.88],[1,7.87],[2,7.8],[3,7.73],[4,7.6],[5,7.48]],
  [[0,8.93],[1,8.88],[2,8.78],[2.5,8.55],[3,8.28],[4,7.93],[5,7.86]],
  null,
  null,
  null,
  [[0,7.6],[1,7.6],[2,7.52],[3,7.42],[3.5,7.4],[4,7.3],[4.5,7.15],[5,6.98]],
  [[0,7.55],[1,7.55],[2,7.5],[3,7.38],[4,7.2],[4.5,7.08],[5,6.89]],
  [[0,7.63],[1,7.63],[2,7.6],[2.5,7.48],[3,7.38],[4,7.25],[4.5,7.15],[5,6.96]]
];

// Layout
const colLeft = [88, 305, 522];
const panelW = 204;
const panelH = 117.5;
const plotTop = [10, 561, 1112];
const stripH = 71;
const rowOffset = [71, 203, 334];
const stripRightW = 73;
const grey20 = "#333333";

const allPoints = [points1, points2, points3];
const allSmooth = [smooth1, smooth2, smooth3];
const allFit = [fit1, fit2, fit3];

const svg = d3.select("#chart");
const defs = svg.append("defs");
let clipId = 0;
function addClip(x, y, w, h) {
  const id = "clip" + (clipId++);
  defs.append("clipPath").attr("id", id)
    .append("rect").attr("x", x).attr("y", y).attr("width", w).attr("height", h);
  return `url(#${id})`;
}

for (let p = 0; p < 3; p++) {
  const gPlot = svg.append("g");

  for (let r = 0; r < 3; r++) {
    for (let c = 0; c < 3; c++) {
      const i = r * 3 + c;
      const top = plotTop[p] + rowOffset[r];
      const x = d3.scaleLinear().domain(xDomains[p]).range([colLeft[c], colLeft[c] + panelW]);
      const y = d3.scaleLinear().domain(yDomain).range([top + panelH, top]);
      const g = gPlot.append("g");

      // sfondo e griglia
      g.append("rect").attr("x", colLeft[c]).attr("y", top)
        .attr("width", panelW).attr("height", panelH).attr("fill", "#fff");
      g.selectAll(".xminor").data(xMinor[p].filter(v => v > xDomains[p][0] && v < xDomains[p][1]))
        .enter().append("line")
        .attr("x1", d => x(d)).attr("x2", d => x(d)).attr("y1", top).attr("y2", top + panelH)
        .attr("stroke", "#EBEBEB").attr("stroke-width", 0.9);
      g.selectAll(".yminor").data(yMinor)
        .enter().append("line")
        .attr("x1", colLeft[c]).attr("x2", colLeft[c] + panelW).attr("y1", d => y(d)).attr("y2", d => y(d))
        .attr("stroke", "#EBEBEB").attr("stroke-width", 0.9);
      g.selectAll(".xmajor").data(xTicks[p])
        .enter().append("line")
        .attr("x1", d => x(d)).attr("x2", d => x(d)).attr("y1", top).attr("y2", top + panelH)
        .attr("stroke", "#EBEBEB").attr("stroke-width", 1.8);
      g.selectAll(".ymajor").data(yTicks)
        .enter().append("line")
        .attr("x1", colLeft[c]).attr("x2", colLeft[c] + panelW).attr("y1", d => y(d)).attr("y2", d => y(d))
        .attr("stroke", "#EBEBEB").attr("stroke-width", 1.8);

      // dati, ritagliati sul pannello
      const gData = g.append("g").attr("clip-path", addClip(colLeft[c], top, panelW, panelH));
      gData.selectAll("circle").data(allPoints[p][i])
        .enter().append("circle")
        .attr("cx", d => x(d[0])).attr("cy", d => y(d[1])).attr("r", 5)
        .attr("fill", "#000").attr("fill-opacity", 0.6);

      const sm = allSmooth[p][i];
      gData.append("path").datum(sm)
        .attr("d", d3.area().x(d => x(d[0])).y0(d => y(d[2])).y1(d => y(d[3])).curve(d3.curveMonotoneX))
        .attr("fill", "#999999").attr("fill-opacity", 0.4);
      gData.append("path").datum(sm)
        .attr("d", d3.line().x(d => x(d[0])).y(d => y(d[1])).curve(d3.curveMonotoneX))
        .attr("fill", "none").attr("stroke", "#3366FF").attr("stroke-width", 4);

      const fit = allFit[p][i];
      if (fit) {
        gData.append("path").datum(fit)
          .attr("d", d3.line().x(d => x(d[0])).y(d => y(d[1])).curve(d3.curveMonotoneX))
          .attr("fill", "none").attr("stroke", "#F8766D").attr("stroke-width", 4.5);
      }

      // bordo del pannello
      g.append("rect").attr("x", colLeft[c]).attr("y", top)
        .attr("width", panelW).attr("height", panelH)
        .attr("fill", "none").attr("stroke", grey20).attr("stroke-width", 1.8);

      // asse Y solo nella prima colonna
      if (c === 0) {
        const ay = g.append("g")
          .attr("transform", `translate(${colLeft[c]},0)`)
          .call(d3.axisLeft(y).tickValues(yTicks).tickFormat(d3.format("d")).tickSize(7).tickPadding(2.5));
        ay.select(".domain").remove();
        ay.selectAll("line").attr("stroke", grey20).attr("stroke-width", 1.8);
        ay.selectAll("text")
          .attr("fill", "#4D4D4D").style("font-size", "26px")
          .attr("font-family", null)
          .attr("transform", "scale(1,0.82)");
      }

      // asse X solo nell'ultima riga
      if (r === 2) {
        const ax = g.append("g")
          .attr("transform", `translate(0,${top + panelH})`)
          .call(d3.axisBottom(x).tickValues(xTicks[p]).tickFormat(d3.format(xFormats[p])).tickSize(7).tickPadding(6));
        ax.select(".domain").remove();
        ax.selectAll("line").attr("stroke", grey20).attr("stroke-width", 1.8);
        ax.selectAll("text")
          .attr("fill", "#4D4D4D").style("font-size", "25px")
          .attr("font-family", null);
      }

      // strip in alto
      if (r === 0) {
        const sy = plotTop[p];
        g.append("rect").attr("x", colLeft[c]).attr("y", sy)
          .attr("width", panelW).attr("height", stripH)
          .attr("fill", "#D9D9D9").attr("stroke", grey20).attr("stroke-width", 1.8);
        const st = g.append("g").attr("clip-path", addClip(colLeft[c], sy, panelW, stripH));
        colStrips[p][c].forEach((txt, k) => {
          st.append("text")
            .attr("x", colLeft[c] + panelW / 2).attr("y", sy + 30.5 + k * 29)
            .attr("text-anchor", "middle").attr("fill", "#1A1A1A")
            .style("font-size", "25px").text(txt);
        });
      }

      // strip a destra
      if (c === 2) {
        const sx = colLeft[c] + panelW;
        g.append("rect").attr("x", sx).attr("y", top)
          .attr("width", stripRightW).attr("height", panelH)
          .attr("fill", "#D9D9D9").attr("stroke", grey20).attr("stroke-width", 1.8);
        const st = g.append("g").attr("clip-path", addClip(sx, top, stripRightW, panelH))
          .append("g")
          .attr("transform", `translate(${sx + stripRightW / 2},${top + panelH / 2}) rotate(90)`);
        rowStrips[p][r].forEach((txt, k) => {
          st.append("text")
            .attr("x", 0).attr("y", -4.5 + k * 29)
            .attr("text-anchor", "middle").attr("fill", "#1A1A1A")
            .style("font-size", "25px").text(txt);
        });
      }
    }
  }

  // titoli degli assi
  const bottom = plotTop[p] + rowOffset[2] + panelH;
  gPlot.append("text")
    .attr("x", (colLeft[0] + colLeft[2] + panelW) / 2).attr("y", bottom + 66)
    .attr("text-anchor", "middle").attr("fill", "#000")
    .style("font-size", "31px").text(xTitles[p]);
  const midY = (plotTop[p] + rowOffset[0] + bottom) / 2;
  gPlot.append("text")
    .attr("transform", `translate(34,${midY}) rotate(-90)`)
    .attr("text-anchor", "middle").attr("fill", "#000")
    .style("font-size", "31px").text(yTitle);
}
</script>
</body>
</html>
